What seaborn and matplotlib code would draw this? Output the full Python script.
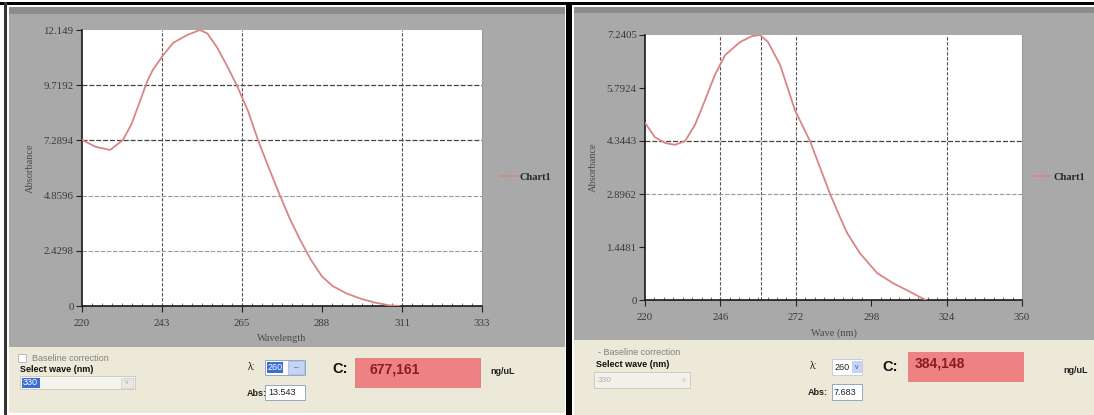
import matplotlib
matplotlib.use("Agg")
import matplotlib.pyplot as plt
import seaborn as sns
import pandas as pd
from matplotlib.patches import Rectangle
from matplotlib.ticker import AutoMinorLocator

# ---------------- data ----------------
left_wavelength = [220, 224, 228, 231.6, 234, 236.4, 238.5, 240.1, 242.7, 245.8, 249.8, 253.4,
                   255.5, 258.2, 261, 263.9, 267, 269.9, 273, 276.1, 279, 282, 285, 288, 291,
                   295, 299, 303, 307, 310]
left_abs = [7.31, 7.0, 6.87, 7.31, 8.0, 9.0, 9.9, 10.4, 10.98, 11.58, 11.93, 12.149,
            12.0, 11.4, 10.6, 9.7, 8.6, 7.29, 6.05, 4.86, 3.8, 2.85, 2.0, 1.3, 0.88,
            0.55, 0.32, 0.15, 0.03, 0.0]
right_wavelength = [220, 223.4, 226.9, 230.3, 233.8, 237.2, 240.7, 244.1, 247.6, 252.8, 256.9,
                    259.7, 262.4, 266.6, 271.7, 276.9, 283.8, 287.2, 289.7, 294.1, 300, 305.5,
                    310.3, 314.8, 317]
right_abs = [4.84, 4.45, 4.29, 4.24, 4.34, 4.78, 5.46, 6.15, 6.69, 7.05, 7.21,
             7.2405, 7.05, 6.42, 5.19, 4.34, 2.90, 2.27, 1.83, 1.28, 0.74, 0.46,
             0.27, 0.08, 0.0]

left_xticks = [220, 242.667, 265.333, 288, 310.667, 333.333]
left_xlabels = ["220", "243", "265", "288", "311", "333"]
left_yticks = [0, 2.4298, 4.8596, 7.2894, 9.7192, 12.149]
left_ylabels = ["0", "2.4298", "4.8596", "7.2894", "9.7192", "12.149"]
right_xticks = [220, 246, 272, 298, 324, 350]
right_xlabels = ["220", "246", "272", "298", "324", "350"]
right_yticks = [0, 1.4481, 2.8962, 4.3443, 5.7924, 7.2405]
right_ylabels = ["0", "1.4481", "2.8962", "4.3443", "5.7924", "7.2405"]

series_name = "Chart1"
left_lambda, left_absval, left_conc = "260", "13.543", "677,161"
right_lambda, right_absval, right_conc = "260", "7.683", "384,148"
unit = "ng/uL"

# ---------------- figure ----------------
sns.set_theme(style="white")
plt.rcParams["font.family"] = ["Liberation Sans", "DejaVu Sans"]

W, H = 1094, 415
fig = plt.figure(figsize=(W / 100, H / 100), dpi=100)
fig.patch.set_facecolor("white")

GRAY = "#a9a9a9"
BEIGE = "#ece9d8"
SERIF = ["Liberation Serif", "DejaVu Serif"]


def rect(x0, y0, x1, y1, **kw):
    kw.setdefault("zorder", -5)
    r = Rectangle((x0 / W, 1 - y1 / H), (x1 - x0) / W, (y1 - y0) / H,
                  transform=fig.transFigure, **kw)
    fig.add_artist(r)
    return r


def text(x, y, s, **kw):
    kw.setdefault("va", "center")
    kw.setdefault("ha", "left")
    return fig.text(x / W, 1 - y / H, s, **kw)


# frames / backgrounds
rect(0, 2, W, 5, facecolor="black", edgecolor="none")
rect(4, 2, 7, H, facecolor="#333333", edgecolor="none")
rect(9, 7, 565, 347, facecolor=GRAY, edgecolor="none")
rect(9, 7, 565, 14, facecolor="#8c8c8c", edgecolor="none")
rect(9, 347, 565, 413, facecolor=BEIGE, edgecolor="none")
rect(566, 2, 572, H, facecolor="black", edgecolor="none")
rect(574, 7, W, 340, facecolor=GRAY, edgecolor="none")
rect(574, 7, W, 13, facecolor="#8c8c8c", edgecolor="none")
rect(574, 340, W, H, facecolor=BEIGE, edgecolor="none")


def make_axes(px0, py0, px1, py1):
    return fig.add_axes([px0 / W, 1 - py1 / H, (px1 - px0) / W, (py1 - py0) / H])


def style_axes(ax, xlim, ylim, xticks, xlabels, yticks, ylabels, xlabel, ylabel,
               vgrid, hgrid_dark, hgrid_light):
    ax.set_facecolor("white")
    ax.set_xlim(*xlim)
    ax.set_ylim(*ylim)
    ax.set_xticks(xticks)
    ax.set_xticklabels(xlabels)
    ax.set_yticks(yticks)
    ax.set_yticklabels(ylabels)
    ax.xaxis.set_minor_locator(AutoMinorLocator(8))
    ax.tick_params(axis="both", which="major", direction="out", length=4, width=0.8,
                   color="#222222", labelsize=7.8, labelcolor="#3a3a3a",
                   bottom=True, left=True)
    ax.tick_params(axis="x", which="major", pad=5)
    ax.tick_params(axis="y", which="major", pad=2)
    ax.tick_params(axis="x", which="minor", direction="in", length=2.5, width=0.6,
                   color="#555555", bottom=True)
    for lab in ax.get_xticklabels() + ax.get_yticklabels():
        lab.set_family(SERIF)
    ax.set_xlabel(xlabel, fontsize=7.5, color="#4a4a4a", labelpad=5, family=SERIF)
    ax.set_ylabel(ylabel, fontsize=7.5, color="#4a4a4a", labelpad=6, family=SERIF)
    for s in ["left", "bottom"]:
        ax.spines[s].set_color("#1a1a1a")
        ax.spines[s].set_linewidth(1.2)
    ax.spines["top"].set_visible(False)
    ax.spines["right"].set_color("#9a9a9a")
    ax.spines["right"].set_linewidth(0.8)
    for xv in vgrid:
        ax.axvline(xv, color="#555555", lw=0.8, ls=(0, (3, 1.5)), zorder=1)
    for yv in hgrid_dark:
        ax.axhline(yv, color="#444444", lw=0.9, ls=(0, (4, 1.5)), zorder=1)
    for yv in hgrid_light:
        ax.axhline(yv, color="#9a9a9a", lw=0.8, ls=(0, (4, 1.5)), zorder=1)


line_color = "#d98585"
leg_prop = {"family": SERIF, "weight": "bold", "size": 7.5}

# ---------------- left chart ----------------
axL = make_axes(82, 30, 482, 306)
dfL = pd.DataFrame({"Wavelength": left_wavelength, "Abs": left_abs})
sns.lineplot(data=dfL, x="Wavelength", y="Abs", ax=axL, color=line_color, lw=1.3,
             label=series_name, zorder=3)
style_axes(axL, (left_xticks[0], left_xticks[-1]), (0, left_yticks[-1]),
           left_xticks, left_xlabels, left_yticks, left_ylabels,
           "Wavelength", "Absorbance",
           vgrid=[left_xticks[1], left_xticks[2], left_xticks[4]],
           hgrid_dark=[left_yticks[3], left_yticks[4]],
           hgrid_light=[left_yticks[1], left_yticks[2]])
axL.legend(loc="center left", bbox_to_anchor=(1.035, 0.467), frameon=False,
           handlelength=1.6, handletextpad=0.3, borderaxespad=0, prop=leg_prop)

# ---------------- right chart ----------------
axR = make_axes(645, 35, 1022, 300)
dfR = pd.DataFrame({"Wavelength": right_wavelength, "Abs": right_abs})
sns.lineplot(data=dfR, x="Wavelength", y="Abs", ax=axR, color=line_color, lw=1.3,
             label=series_name, zorder=3)
style_axes(axR, (right_xticks[0], right_xticks[-1]), (0, right_yticks[-1]),
           right_xticks, right_xlabels, right_yticks, right_ylabels,
           "Wave (nm)", "Absorbance",
           vgrid=[right_xticks[1], float(right_lambda), right_xticks[2], right_xticks[4]],
           hgrid_dark=[right_yticks[3]],
           hgrid_light=[right_yticks[2]])
axR.legend(loc="center left", bbox_to_anchor=(1.02, 0.464), frameon=False,
           handlelength=1.6, handletextpad=0.3, borderaxespad=0, prop=leg_prop)

# ---------------- bottom control strips ----------------
ui = dict(family=["Liberation Sans", "DejaVu Sans"])

# left panel controls
rect(18, 354, 26, 362, facecolor="white", edgecolor="#b0b0b0", lw=0.6, zorder=2)
text(32, 358, "Baseline correction", fontsize=6.5, color="#808080", **ui)
text(20, 369, "Select wave (nm)", fontsize=6.5, color="#111111", weight="bold", **ui)
rect(20, 376, 135, 389, facecolor="#f4f3ee", edgecolor="#c8c6bd", lw=0.6, zorder=2)
rect(22, 377.5, 40, 387.5, facecolor="#3d6fd1", edgecolor="none", zorder=3)
text(23, 382.5, "330", fontsize=6.5, color="white", **ui)
rect(121, 377.5, 133, 387.5, facecolor="#e9e8e2", edgecolor="#d0cec6", lw=0.5, zorder=3)
text(127, 382.5, "v", fontsize=5, color="#aaaaaa", ha="center", **ui)

text(248, 367, "λ:", fontsize=7, color="#222222", **ui)
rect(265, 360, 305, 375, facecolor="white", edgecolor="#7f9db9", lw=0.6, zorder=2)
rect(267, 362, 283, 373, facecolor="#3d6fd1", edgecolor="none", zorder=3)
text(268, 367.5, left_lambda, fontsize=6.5, color="white", **ui)
rect(288, 361, 304, 374, facecolor="#c5d3f4", edgecolor="#9fb4e4", lw=0.5, zorder=3)
text(296, 367.5, "–", fontsize=6, color="#3355aa", ha="center", **ui)
text(247, 393, "Abs:", fontsize=6.5, color="#222222", weight="bold", **ui)
rect(265, 385, 305, 400, facecolor="white", edgecolor="#7f9db9", lw=0.6, zorder=2)
text(268, 392.5, left_absval, fontsize=6.5, color="#222222", **ui)

text(332, 369, "C:", fontsize=10.5, color="#111111", weight="bold", **ui)
rect(355, 358, 480, 387, facecolor="#ee8282", edgecolor="#e57a7a", lw=0.6, zorder=2)
text(370, 369, left_conc, fontsize=10, color="#8b1c1c", weight="bold", **ui)
text(490, 371, unit, fontsize=6.5, color="#222222", weight="bold", **ui)

# right panel controls
text(598, 352, "- Baseline correction", fontsize=6.5, color="#808080", **ui)
text(596, 364, "Select wave (nm)", fontsize=6.5, color="#111111", weight="bold", **ui)
rect(594, 372, 690, 388, facecolor="#f1f0ea", edgecolor="#c8c6bd", lw=0.6, zorder=2)
text(598, 380, "330", fontsize=6, color="#b0b0b0", **ui)
text(684, 380, "v", fontsize=5, color="#bbbbbb", ha="center", **ui)

text(810, 366, "λ:", fontsize=7, color="#222222", **ui)
rect(832, 359, 862, 375, facecolor="white", edgecolor="#c0c8d8", lw=0.6, zorder=2)
text(835, 367, right_lambda, fontsize=6.5, color="#222222", **ui)
rect(852, 361, 862, 373, facecolor="#c5d3f4", edgecolor="none", zorder=3)
text(857, 367, "v", fontsize=5, color="#3355aa", ha="center", **ui)
text(808, 392, "Abs:", fontsize=6.5, color="#222222", weight="bold", **ui)
rect(832, 384, 862, 400, facecolor="white", edgecolor="#7f9db9", lw=0.6, zorder=2)
text(834, 392, right_absval, fontsize=6.5, color="#222222", **ui)

text(882, 367, "C:", fontsize=10.5, color="#111111", weight="bold", **ui)
rect(908, 352, 1023, 381, facecolor="#ee8282", edgecolor="#e57a7a", lw=0.6, zorder=2)
text(915, 363, right_conc, fontsize=10, color="#8b1c1c", weight="bold", **ui)
text(1063, 370, unit, fontsize=6.5, color="#222222", weight="bold", **ui)

fig.savefig("out.png", dpi=100, facecolor=fig.get_facecolor())
